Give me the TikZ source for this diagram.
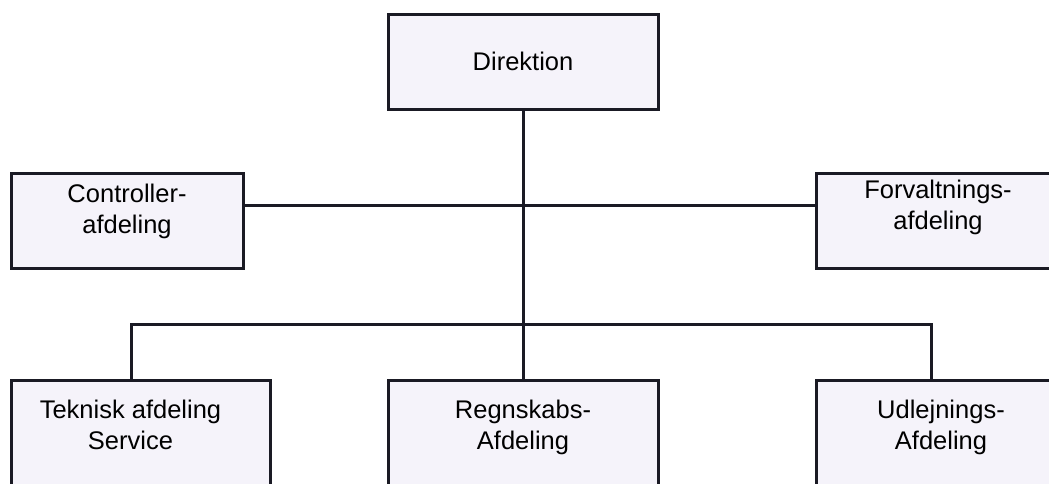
\documentclass[tikz,border=0pt]{standalone}
\usepackage{fontspec}
\setmainfont{Liberation Sans}
\usetikzlibrary{positioning}
\definecolor{boxfill}{RGB}{245,243,250}
\definecolor{inkline}{RGB}{26,26,36}
\tikzset{
  unit/.style={draw=inkline, fill=boxfill, line width=3pt, inner sep=0pt, outer sep=0pt},
  unitname/.style={align=center, inner sep=0pt, font=\fontsize{25.5}{30.5}\selectfont},
  link/.style={draw=inkline, line width=3pt}
}

\begin{document}
\begin{tikzpicture}[x=1pt,y=-1pt]
    \clip[use as bounding box] (0,0) rectangle (1049,483);
    \fill[white] (0,0) rectangle (1049,483);
    \node[unit, minimum width=270pt, minimum height=95pt] (dir) at (523,61.5) {};
    \node[unit, minimum width=232pt, minimum height=95pt] (ctrl) at (127,220.5) {};
    \node[unit, minimum width=244pt, minimum height=95pt] (forv) at (938,220.5) {};
    \node[unit, minimum width=259pt, minimum height=130pt] (tek) at (140.5,445) {};
    \node[unit, minimum width=270pt, minimum height=130pt] (reg) at (523,445) {};
    \node[unit, minimum width=250pt, minimum height=130pt] (udl) at (941,445) {};

    \node[unitname] (dirtxt) at (dir) {Direktion};
    \node[unitname, below=11pt of ctrl.north] (ctrltxt) {Controller-\\afdeling};
    \node[unitname, below=7pt of forv.north] (forvtxt) {Forvaltnings-\\afdeling};
    \node[unitname, below=20pt of tek.north, xshift=-10pt] (tektxt) {Teknisk afdeling\\Service};
    \node[unitname, below=20pt of reg.north] (regtxt) {Regnskabs-\\Afdeling};
    \node[unitname, below=20pt of udl.north] (udltxt) {Udlejnings-\\Afdeling};

    \coordinate (staff) at (523,205);
    \coordinate (busL) at (131,324);
    \coordinate (busR) at (931,324);
    \draw[link] (dir.south) -- (reg.north);
    \draw[link] (staff -| ctrl.east) -- (staff -| forv.west);
    \draw[link] (busL |- tek.north) -- (busL) -- (busR) -- (busR |- udl.north);
\end{tikzpicture}
\end{document}
